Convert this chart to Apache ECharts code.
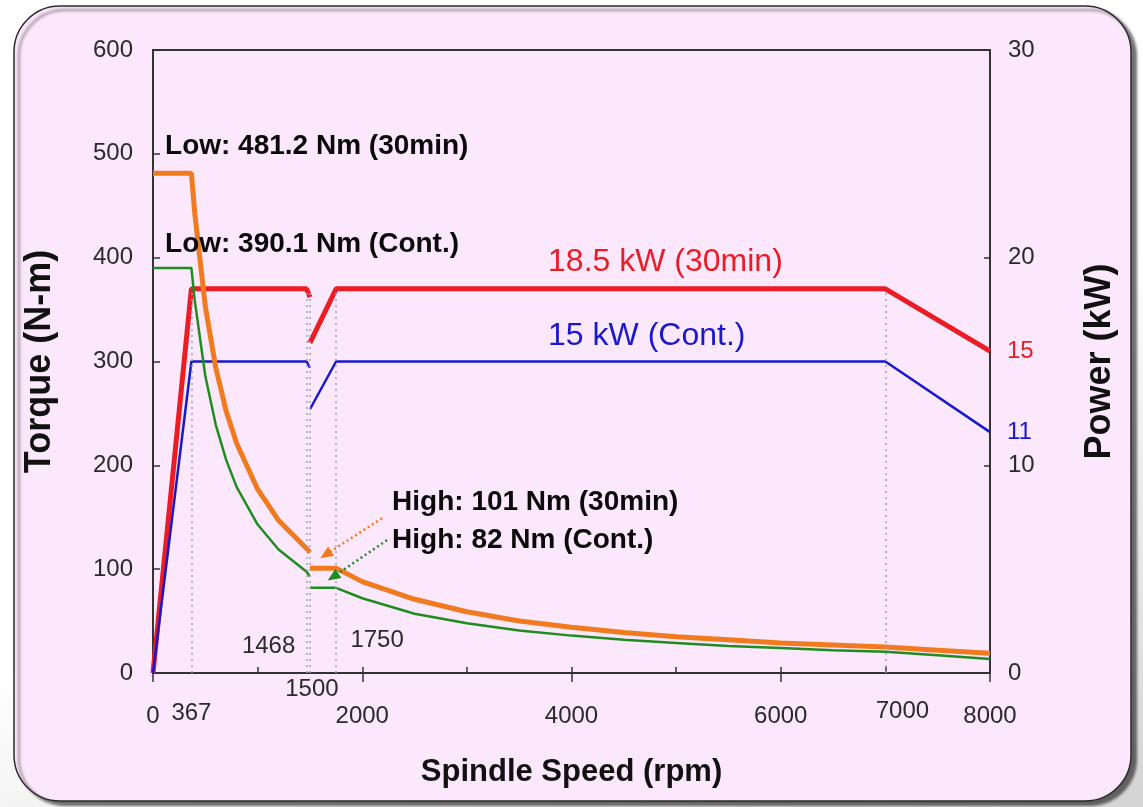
<!DOCTYPE html>
<html>
<head>
<meta charset="utf-8">
<script src="https://cdn.jsdelivr.net/npm/echarts@6/dist/echarts.min.js"></script>
<style>
html,body{margin:0;padding:0;}
body{width:1143px;height:807px;background:linear-gradient(160deg,#ffffff 0%,#ffffff 55%,#d4d4d4 100%);overflow:hidden;}
#chart{width:1143px;height:807px;}
</style>
</head>
<body>
<div id="chart"></div>
<script>
// ---- data (rpm, value) ----
const xTickLabels = ['0', '2000', '4000', '6000', '8000'];
const torque30Low  = [[0,481.2],[367,481.2],[400,442],[500,353],[600,294],[700,252],[800,221],[1000,177],[1200,147],[1468,120],[1500,116]];
const torque30High = [[1500,101],[1750,101],[2000,88],[2500,71],[3000,59],[3500,50],[4000,44],[4500,39],[5000,35],[5500,32],[6000,29],[6500,27],[7000,25],[7500,22],[8000,19]];
const torqueContLow  = [[0,390.1],[367,390.1],[400,358],[500,286],[600,239],[700,205],[800,179],[1000,143],[1200,119],[1468,97.6],[1500,93]];
const torqueContHigh = [[1500,82],[1750,82],[2000,72],[2500,57],[3000,48],[3500,41],[4000,36],[4500,32],[5000,29],[5500,26],[6000,24],[6500,22],[7000,20.5],[7500,17],[8000,13.5]];
const power30Low  = [[0,0],[367,18.5],[1468,18.5],[1500,18.1]];
const power30High = [[1500,15.9],[1750,18.5],[7000,18.5],[8000,15.5]];
const powerContLow  = [[0,0],[367,15],[1468,15],[1500,14.7]];
const powerContHigh = [[1500,12.7],[1750,15],[7000,15],[8000,11.6]];
const refSpeeds = [367, 1468, 1500, 1750, 7000];
const refTop = 18.5;
const endLabel30 = '15';
const endLabelCont = '11';
// ---- annotation texts ----
const torqueNotes = ['Low: 481.2 Nm (30min)', 'Low: 390.1 Nm (Cont.)', 'High: 101 Nm (30min)', 'High: 82 Nm (Cont.)'];
const powerNotes = ['18.5 kW (30min)', '15 kW (Cont.)'];

const FONT = '"Liberation Sans", Arial, sans-serif';
const C_OR = '#f27a1e', C_RED = '#ec1c24', C_GR = '#1f8c1f', C_BL = '#1818cc';
const AX = '#333333';

const chart = echarts.init(document.getElementById('chart'), null, {renderer: 'canvas'});

const refLines = refSpeeds.map(s => [{coord: [s, 0]}, {coord: [s, refTop]}]);

const tickLabelStyle = {fontSize: 24, color: '#2a2a2a', fontFamily: FONT};
const extraTicks = [
  {value: [refSpeeds[0], 0], label: {formatter: String(refSpeeds[0]), position: 'bottom', distance: 28}},
  {value: [refSpeeds[1], 0], label: {formatter: String(refSpeeds[1]), position: 'top', distance: 15, offset: [-38, 0]}},
  {value: [refSpeeds[2], 0], label: {formatter: String(refSpeeds[2]), position: 'bottom', distance: 4, offset: [2, 0]}},
  {value: [refSpeeds[3], 0], label: {formatter: String(refSpeeds[3]), position: 'top', distance: 21, offset: [41, 0]}},
  {value: [refSpeeds[4], 0], label: {formatter: String(refSpeeds[4]), position: 'bottom', distance: 26, offset: [17, 0]}}
];

const noteBold = {fontSize: 28, fontWeight: 'bold', color: '#0a0a0a', fontFamily: FONT};
const torqueNotePts = [
  {value: [115, 507], label: Object.assign({formatter: torqueNotes[0]}, noteBold)},
  {value: [115, 413], label: Object.assign({formatter: torqueNotes[1]}, noteBold)},
  {value: [2285, 164], label: Object.assign({formatter: torqueNotes[2]}, noteBold)},
  {value: [2285, 128], label: Object.assign({formatter: torqueNotes[3]}, noteBold)}
];
const powerNotePts = [
  {value: [3776, 19.8], label: {formatter: powerNotes[0], fontSize: 32, color: C_RED, fontFamily: FONT}},
  {value: [3776, 16.2], label: {formatter: powerNotes[1], fontSize: 32, color: C_BL, fontFamily: FONT}}
];

// arrow annotations (start, head centre) in data units
const arrow30 = {from: [2189, 149], to: [1650, 114], rot: 123};
const arrowCont = {from: [2237, 128], to: [1721, 92.5], rot: 124};

const lineSeries = (name, data, color, width, yIdx, extra) => Object.assign({
  name, type: 'line', data, xAxisIndex: 0, yAxisIndex: yIdx, symbol: 'none',
  lineStyle: {color, width}, itemStyle: {color}, animation: false, z: 3
}, extra || {});

const arrowLine = (color, a) => ({
  silent: true, symbol: ['none', 'none'], animation: false,
  label: {show: false},
  lineStyle: {color, type: [2, 3], width: 2.5, opacity: 1},
  data: [[{coord: a.from}, {coord: a.to}]]
});

const scatterBase = {type: 'scatter', symbolSize: 0, clip: false, silent: true, z: 5,
  itemStyle: {opacity: 1}, emphasis: {disabled: true}};

const option = {
  animation: false,
  graphic: [{
    type: 'rect', z: -10, silent: true,
    shape: {x: 14, y: 6, width: 1117, height: 795, r: 46},
    style: {fill: '#fce8fc', stroke: '#2a2a2a', lineWidth: 1.5,
            shadowBlur: 3, shadowOffsetX: 5, shadowOffsetY: 4, shadowColor: 'rgba(0,0,0,0.55)'}
  }],
  grid: {left: 153, right: 153, top: 50, bottom: 134, show: true, borderColor: AX, borderWidth: 2, backgroundColor: 'transparent'},
  xAxis: [{
    type: 'value', min: 0, max: 8000, interval: 2000, position: 'bottom',
    axisLine: {show: true, onZero: false, lineStyle: {color: AX, width: 2}},
    axisTick: {show: true, inside: false, length: 9, lineStyle: {color: AX, width: 1.5}},
    axisLabel: Object.assign({margin: 31, formatter: v => xTickLabels[Math.round(v / 2000)]}, tickLabelStyle),
    splitLine: {show: false},
    name: 'Spindle Speed (rpm)', nameLocation: 'middle', nameGap: 84,
    nameTextStyle: {fontSize: 31, fontWeight: 'bold', color: '#111', fontFamily: FONT}
  }, {
    type: 'value', min: 0, max: 8000, interval: 1000, position: 'bottom',
    axisLine: {show: false}, axisLabel: {show: false}, splitLine: {show: false},
    axisTick: {show: true, inside: true, length: 6, lineStyle: {color: AX, width: 1.5}}
  }],
  yAxis: [{
    type: 'value', min: 0, max: 600, interval: 100, position: 'left',
    axisLine: {show: true, onZero: false, lineStyle: {color: AX, width: 2}},
    axisTick: {show: true, inside: true, length: 7, lineStyle: {color: AX, width: 1.5}},
    axisLabel: Object.assign({margin: 20}, tickLabelStyle),
    splitLine: {show: false},
    name: 'Torque (N-m)', nameLocation: 'middle', nameRotate: 90, nameGap: 95,
    nameTextStyle: {fontSize: 36, fontWeight: 'bold', color: '#111', fontFamily: FONT}
  }, {
    type: 'value', min: 0, max: 30, interval: 10, position: 'right',
    axisLine: {show: true, onZero: false, lineStyle: {color: AX, width: 2}},
    axisTick: {show: true, inside: true, length: 6, lineStyle: {color: AX, width: 1.5}},
    axisLabel: Object.assign({margin: 18}, tickLabelStyle),
    splitLine: {show: false},
    name: 'Power (kW)', nameLocation: 'middle', nameRotate: 90, nameGap: 92,
    nameTextStyle: {fontSize: 36, fontWeight: 'bold', color: '#111', fontFamily: FONT}
  }],
  series: [
    {
      name: 'refs', type: 'line', data: [], yAxisIndex: 1, z: 1,
      markLine: {
        silent: true, symbol: ['none', 'none'], animation: false,
        label: {show: false},
        lineStyle: {color: '#9ea3b8', type: [2, 4], width: 1.5},
        data: refLines
      }
    },
    lineSeries('Power 30min low', power30Low, C_RED, 5, 1),
    lineSeries('Power 30min high', power30High, C_RED, 5, 1, {
      endLabel: {show: true, formatter: endLabel30, color: C_RED, fontSize: 24, fontFamily: FONT, distance: 17}
    }),
    lineSeries('Power cont low', powerContLow, C_BL, 2.5, 1),
    lineSeries('Power cont high', powerContHigh, C_BL, 2.5, 1, {
      endLabel: {show: true, formatter: endLabelCont, color: C_BL, fontSize: 24, fontFamily: FONT, distance: 17}
    }),
    lineSeries('Torque cont low', torqueContLow, C_GR, 2.5, 0),
    lineSeries('Torque cont high', torqueContHigh, C_GR, 2.5, 0, {markLine: arrowLine(C_GR, arrowCont)}),
    lineSeries('Torque 30min low', torque30Low, C_OR, 5, 0),
    lineSeries('Torque 30min high', torque30High, C_OR, 5, 0, {markLine: arrowLine(C_OR, arrow30)}),
    Object.assign({}, scatterBase, {
      name: 'arrowHeads', yAxisIndex: 0, symbol: 'triangle', symbolSize: [11, 13], z: 6,
      data: [
        {value: arrow30.to, symbolRotate: arrow30.rot, itemStyle: {color: C_OR, opacity: 1}},
        {value: arrowCont.to, symbolRotate: arrowCont.rot, itemStyle: {color: C_GR, opacity: 1}}
      ]
    }),
    Object.assign({}, scatterBase, {name: 'tickExtras', yAxisIndex: 0, label: Object.assign({show: true}, tickLabelStyle), data: extraTicks}),
    Object.assign({}, scatterBase, {name: 'torqueNotes', yAxisIndex: 0, label: {show: true, position: 'right', distance: 0}, data: torqueNotePts}),
    Object.assign({}, scatterBase, {name: 'powerNotes', yAxisIndex: 1, label: {show: true, position: 'right', distance: 0}, data: powerNotePts})
  ]
};
chart.setOption(option);
</script>
</body>
</html>
